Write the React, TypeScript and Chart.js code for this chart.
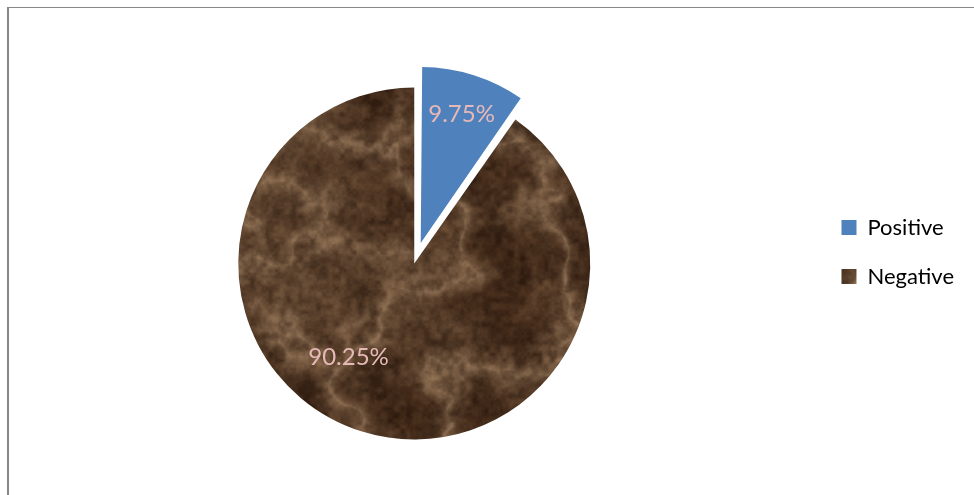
import React, { useEffect, useRef } from 'react';
import { Chart, registerables } from 'chart.js';

Chart.register(...registerables);

// ---- data ----
const categories: string[] = ['Positive', 'Negative'];
const shares: number[] = [9.75, 90.25];
const valueLabels: string[] = ['9.75%', '90.25%'];

// ---- styling ----
const BLUE = '#4F81BD';
const LABEL_COLOR = '#E6B9B8';
const FONT = 'Lato, "Noto Sans", sans-serif';
const labelPlacement = [
  { frac: 0.77, shiftDeg: 0 },
  { frac: 0.65, shiftDeg: 17.5 },
];

// deterministic hash-based value noise for a marble-like texture
function hash(ix: number, iy: number, seed: number): number {
  let h = Math.imul(ix, 374761393) ^ Math.imul(iy, 668265263) ^ Math.imul(seed + 17, 1442695041);
  h = Math.imul(h ^ (h >>> 13), 1274126177);
  h ^= h >>> 16;
  return (h >>> 0) / 4294967295;
}
function vnoise(x: number, y: number, seed: number): number {
  const ix = Math.floor(x), iy = Math.floor(y);
  const fx = x - ix, fy = y - iy;
  const sx = fx * fx * (3 - 2 * fx), sy = fy * fy * (3 - 2 * fy);
  const a = hash(ix, iy, seed), b = hash(ix + 1, iy, seed);
  const c = hash(ix, iy + 1, seed), d = hash(ix + 1, iy + 1, seed);
  return a + (b - a) * sx + (c - a) * sy + (a - b - c + d) * sx * sy;
}
function fbm(x: number, y: number, seed: number, oct: number): number {
  let s = 0, amp = 0.5, f = 1, norm = 0;
  for (let i = 0; i < oct; i++) {
    s += amp * vnoise(x * f, y * f, seed + i);
    norm += amp;
    amp *= 0.5;
    f *= 2;
  }
  return s / norm;
}

function makeMarble(ctx: CanvasRenderingContext2D): CanvasPattern | string {
  const W = 700, H = 520;
  const c = document.createElement('canvas');
  c.width = W; c.height = H;
  const g = c.getContext('2d');
  if (!g) return '#4f3321';
  const img = g.createImageData(W, H);
  const dark = [44, 25, 13];
  const mid = [104, 72, 47];
  const light = [166, 134, 102];
  for (let y = 0; y < H; y++) {
    for (let x = 0; x < W; x++) {
      const warp = fbm(x / 60, y / 60, 5, 3);
      const r1 = fbm(x / 110 + warp * 0.8, y / 110, 3, 4);
      const ridge = 1 - Math.abs(2 * r1 - 1);
      const vein = Math.pow(ridge, 6);
      const fine = fbm(x / 6, y / 6, 11, 3);
      const blot = fbm(x / 26, y / 26, 23, 3);
      let base = 0.02 + 0.7 * (fine - 0.15) + 0.7 * (blot - 0.45);
      base = Math.min(1, Math.max(0, base));
      const i = (y * W + x) * 4;
      for (let k = 0; k < 3; k++) {
        let col = dark[k] + (mid[k] - dark[k]) * base;
        col += (light[k] - col) * vein * (0.35 + 0.5 * fine);
        img.data[i + k] = Math.round(col);
      }
      img.data[i + 3] = 255;
    }
  }
  g.putImageData(img, 0, 0);
  return ctx.createPattern(c, 'repeat') || '#4f3321';
}

const explodeFix = {
  id: 'explodeFix',
  afterDatasetUpdate(chart: any, args: any) {
    const meta = chart.getDatasetMeta(args.index);
    meta.data.forEach((arc: any) => {
      const off = ((arc.options && arc.options.offset) || 0) / 4;
      const fix = 1 - Math.sin(Math.min(Math.PI, arc.circumference || 0));
      arc.outerRadius -= off * fix;
    });
  },
};

const sliceLabels = {
  id: 'sliceLabels',
  afterDatasetsDraw(chart: any) {
    const meta = chart.getDatasetMeta(0);
    const R = meta.controller.outerRadius;
    const ctx = chart.ctx;
    ctx.save();
    ctx.font = `24px ${FONT}`;
    ctx.fillStyle = LABEL_COLOR;
    ctx.textAlign = 'center';
    ctx.textBaseline = 'middle';
    meta.data.forEach((arc: any, i: number) => {
      const mid = (arc.startAngle + arc.endAngle) / 2;
      const off = ((arc.options && arc.options.offset) || 0) / 4;
      const p = labelPlacement[i];
      const a = mid + (p.shiftDeg * Math.PI) / 180;
      const x = arc.x + Math.cos(mid) * off + Math.cos(a) * p.frac * R;
      const y = arc.y + Math.sin(mid) * off + Math.sin(a) * p.frac * R;
      ctx.fillText(valueLabels[i], x, y);
    });
    ctx.restore();
  },
};

export default function App() {
  const ref = useRef<HTMLCanvasElement | null>(null);
  useEffect(() => {
    const canvas = ref.current;
    if (!canvas) return;
    const ctx = canvas.getContext('2d') as CanvasRenderingContext2D;
    const marble = makeMarble(ctx);
    const chart = new Chart(canvas, {
      type: 'pie',
      data: {
        labels: categories,
        datasets: [
          {
            data: shares,
            backgroundColor: [BLUE, marble as any],
            borderWidth: 0,
            borderColor: 'rgba(0,0,0,0)',
            offset: [86, 0],
          },
        ],
      },
      options: {
        responsive: false,
        animation: false,
        devicePixelRatio: 1,
        radius: 176,
        layout: { padding: { left: 14, right: 10, top: 12, bottom: 3 } },
        plugins: {
          legend: {
            position: 'right',
            labels: {
              boxWidth: 15,
              boxHeight: 15,
              padding: 27,
              color: '#000000',
              font: { family: FONT, size: 22 },
            },
          },
          title: {
            display: true,
            text: ' ',
            font: { size: 10, lineHeight: 1.2 },
            padding: { top: 0, bottom: 11 },
          },
          tooltip: { enabled: false },
        },
      } as any,
      plugins: [explodeFix, sliceLabels],
    });
    return () => chart.destroy();
  }, []);

  return (
    <div style={{ position: 'absolute', left: 0, top: 0, width: 974, height: 495, background: '#ffffff', overflow: 'hidden' }}>
      <div
        style={{
          position: 'absolute',
          left: 7,
          top: 7,
          width: 1000,
          height: 520,
          borderTop: '1px solid #878787',
          borderLeft: '2px solid #878787',
        }}
      />
      <canvas ref={ref} width={974} height={495} style={{ position: 'absolute', left: 0, top: 0 }} />
    </div>
  );
}
